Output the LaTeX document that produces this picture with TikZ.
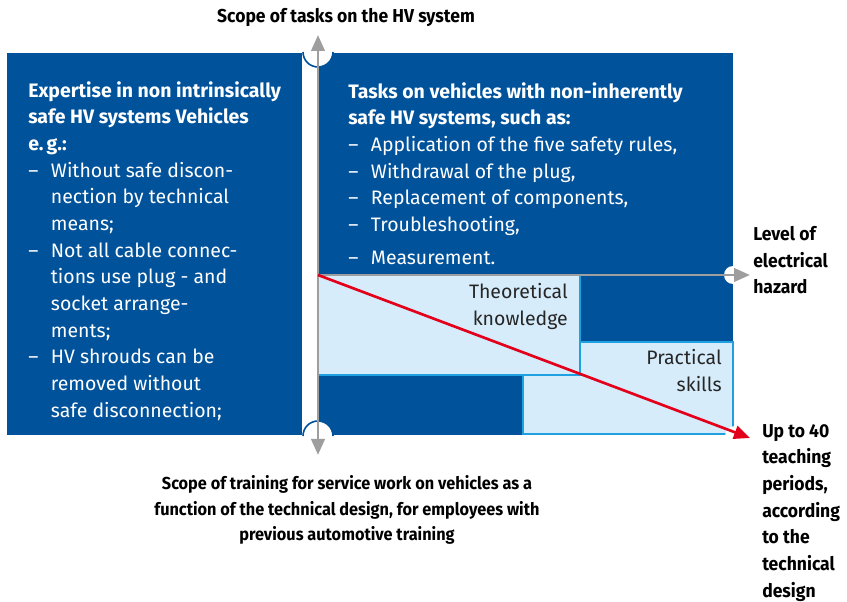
\documentclass[tikz,border=0pt]{standalone}
\usepackage{fontspec}
\setmainfont{Fira Sans}
\newfontfamily\condfont{Fira Sans}[FakeStretch=0.94]
\usetikzlibrary{arrows.meta}

\definecolor{hvblue}{RGB}{0,82,155}
\definecolor{hvlight}{RGB}{214,236,251}
\definecolor{hvcyan}{RGB}{30,160,225}
\definecolor{hvgray}{RGB}{158,158,158}
\definecolor{hvred}{RGB}{226,0,26}

\newcommand{\itm}{\makebox[17pt][l]{--}}
\newcommand{\ind}{\hspace*{17pt}}

\begin{document}
\begin{tikzpicture}[x=0.75pt,y=-0.75pt]
		\tikzset{> = {Triangle[width=10pt,length=12pt]}}
		\tikzset{body/.style = {inner sep=0, align=left, font=\fontsize{14.6}{20}\selectfont},
			label/.style = {inner sep=0, font=\condfont\fontsize{14}{20}\bfseries\selectfont}}
		\useasboundingbox (0,0) rectangle (847,602);
		% boxes
		\fill[hvblue] (7,53) rectangle (302,435);
		\fill[hvblue] (318,53) rectangle (733,435);
		\filldraw[fill=hvlight, draw=hvcyan, line width=1.2] (318,275) rectangle (580,375);
		\filldraw[fill=hvlight, draw=hvcyan, line width=1.2] (580,342) -- (733,342) -- (733,434) -- (523,434) -- (523,375) -- (580,375) -- cycle;
		% notches
		\fill[white] (318,52) circle (15);
		\fill[white] (318,436) circle (15);
		\fill[white] (733,275) circle (9);
		\fill[white] (735,436) circle (10);
		\draw[hvblue, line width=1.2] (303,52) arc[start angle=180, end angle=0, radius=15];
		\draw[hvblue, line width=1.2] (303,436) arc[start angle=180, end angle=360, radius=15];
		% axes
		\coordinate (O) at (318,275);
		\coordinate (Ytop) at (318,35);
		\coordinate (Ybot) at (318,455);
		\coordinate (X) at (750,275);
		\coordinate (D) at (750,438);
		\draw[<->, hvgray, line width=2.2] (Ytop) -- (Ybot);
		\draw[->, hvgray, line width=2.2] (O) -- (X);
		\draw[->, hvred, line width=2] (O) -- (D);
		% texts
		\node[body, text=white, anchor=north west] (expertise) at (28,81)
			{\textbf{Expertise in non intrinsically}\\
			\textbf{safe HV systems Vehicles}\\
			\textbf{e.\,g.:}\\
			\itm Without safe discon-\\
			\ind nection by technical\\
			\ind means;\\
			\itm Not all cable connec-\\
			\ind tions use plug - and\\
			\ind socket arrange-\\
			\ind ments;\\
			\itm HV shrouds can be\\
			\ind removed without\\
			\ind safe disconnection;};
		\node[body, text=white, anchor=north west] (tasks) at (348,82)
			{\textbf{Tasks on vehicles with non-inherently}\\
			\textbf{safe HV systems, such as:}\\
			\itm Application of the five safety rules,\\
			\itm Withdrawal of the plug,\\
			\itm Replacement of components,\\
			\itm Troubleshooting,\\[5pt]
			\itm Measurement.};
		\node[body, align=right, text=black!85, anchor=north east] (theory) at (568,283)
			{Theoretical\\knowledge};
		\node[body, align=right, text=black!85, anchor=north east] (practice) at (722,349)
			{Practical\\skills};
		\node[label, anchor=north] (scope) at (346,8) {Scope of tasks on the HV system};
		\node[label, align=left, anchor=north west] (hazard) at (753,226)
			{Level of\\electrical\\hazard};
		\node[label, align=left, anchor=north west] (periods) at (762,424)
			{Up to 40\\teaching\\periods,\\according\\to the\\technical\\design};
		\node[label, align=center, anchor=north, font=\condfont\fontsize{13}{19.3}\bfseries\selectfont] (caption) at (347,475)
			{Scope of training for service work on vehicles as a\\
			function of the technical design, for employees with\\
			previous automotive training};
	\end{tikzpicture}
\end{document}
